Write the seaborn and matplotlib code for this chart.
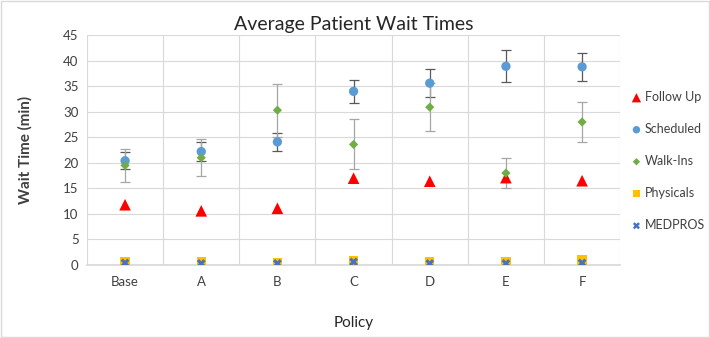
import numpy as np
import pandas as pd
import matplotlib
matplotlib.use("Agg")
import matplotlib.pyplot as plt
import seaborn as sns

# Data
policies = ["Base", "A", "B", "C", "D", "E", "F"]
follow_up = [11.8, 10.6, 11.1, 17.0, 16.4, 17.1, 16.5]
scheduled = [20.4, 22.2, 24.1, 34.0, 35.6, 38.9, 38.8]
scheduled_err = [1.7, 1.9, 1.8, 2.3, 2.8, 3.1, 2.7]
walk_ins = [19.5, 21.0, 30.3, 23.6, 30.9, 18.0, 28.0]
walk_ins_err = [3.2, 3.6, 5.2, 4.9, 4.7, 3.0, 4.0]
physicals = [0.7, 0.7, 0.5, 0.8, 0.7, 0.7, 1.0]
medpros = [0.4, 0.3, 0.3, 0.6, 0.3, 0.3, 0.4]

series_names = ["Follow Up", "Scheduled", "Walk-Ins", "Physicals", "MEDPROS"]
series_values = [follow_up, scheduled, walk_ins, physicals, medpros]

df = pd.DataFrame({
    "Policy": policies * len(series_names),
    "Wait": sum(series_values, []),
    "Patient": sum([[n] * len(policies) for n in series_names], []),
})

palette = {
    "Follow Up": "#ff0000",
    "Scheduled": "#5b9bd5",
    "Walk-Ins": "#70ad47",
    "Physicals": "#ffc000",
    "MEDPROS": "#4472c4",
}
markers = {
    "Follow Up": "^",
    "Scheduled": "o",
    "Walk-Ins": "D",
    "Physicals": "s",
    "MEDPROS": "X",
}
sizes = {"Follow Up": 70, "Scheduled": 45, "Walk-Ins": 22, "Physicals": 45, "MEDPROS": 40}

sns.set_theme(style="white")
plt.rcParams["font.family"] = ["Lato", "DejaVu Sans"]

fig = plt.figure(figsize=(7.1, 3.38), dpi=100)
ax = fig.add_axes([0.1225, 0.216, 0.751, 0.68])

# error bars first so markers sit on top
x = np.arange(len(policies))
ax.errorbar(x, scheduled, yerr=scheduled_err, fmt="none", ecolor="#595959",
            elinewidth=0.9, capsize=3.5, capthick=0.9, zorder=2)
ax.errorbar(x, walk_ins, yerr=walk_ins_err, fmt="none", ecolor="#a6a6a6",
            elinewidth=0.9, capsize=3.5, capthick=0.9, zorder=2)

for name in series_names:
    sub = df[df["Patient"] == name]
    sns.scatterplot(data=sub, x="Policy", y="Wait", color=palette[name],
                    marker=markers[name], s=sizes[name], edgecolor="none",
                    linewidth=0, label=name, ax=ax, zorder=3)

ax.set_xlim(-0.5, len(policies) - 0.5)
ax.set_ylim(0, 45)
ax.set_yticks(range(0, 46, 5))
ax.set_xticks(x)
ax.set_xticklabels(policies)
ax.set_xticks(np.arange(-0.5, len(policies)), minor=True)
ax.grid(which="major", axis="y", color="#d9d9d9", linewidth=0.8)
ax.grid(which="minor", axis="x", color="#d9d9d9", linewidth=0.8)
ax.set_axisbelow(True)
for side in ["top", "right", "left"]:
    ax.spines[side].set_visible(False)
ax.spines["bottom"].set_color("#d9d9d9")
ax.tick_params(axis="both", which="both", length=0, labelsize=9.5,
               labelcolor="#404040", pad=6)
ax.tick_params(axis="x", pad=8)

ax.set_title("Average Patient Wait Times", fontsize=14, color="#262626", pad=4)
ax.set_ylabel("Wait Time (min)", fontsize=11, fontweight="bold", color="#404040", labelpad=22)
ax.set_xlabel("Policy", fontsize=11, color="#262626", labelpad=20)

leg = ax.legend(loc="upper left", bbox_to_anchor=(1.0, 0.795), frameon=False,
                fontsize=9, labelspacing=1.6, handletextpad=0.05,
                handlelength=1.2, borderaxespad=0.3, markerscale=0.8)
for t in leg.get_texts():
    t.set_color("#404040")

# light frame around the whole chart
fig.patches.append(plt.Rectangle((0.002, 0.003), 0.996, 0.994, transform=fig.transFigure,
                                 fill=False, edgecolor="#d9d9d9", linewidth=1))

fig.savefig("out.png", dpi=100)
